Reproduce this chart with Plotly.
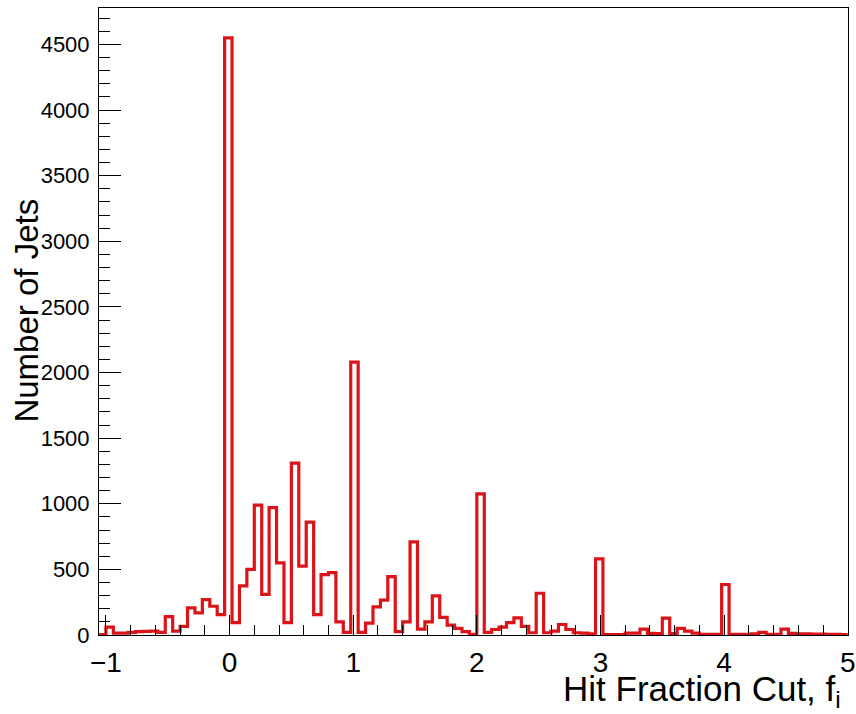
import plotly.graph_objects as go

# Histogram definition (101 bins of width 0.06 starting at -1.06)
x_low = -1.06
bin_width = 0.06
counts = [
    3, 60, 15, 15, 20, 25, 28, 30, 20, 140,        # bins 0-9
    30, 65, 207, 169, 270, 219, 156, 4550, 95, 375,  # 10-19
    500, 990, 310, 970, 550, 95, 1310, 525, 860, 155,  # 20-29
    460, 475, 100, 20, 2080, 20, 90, 215, 265, 445,  # 30-39
    25, 100, 710, 45, 100, 298, 135, 75, 50, 25,  # 40-49
    5, 1075, 20, 42, 60, 95, 130, 65, 17, 318,  # 50-59
    17, 30, 80, 42, 17, 15, 8, 580, 3, 3,  # 60-69
    3, 15, 15, 45, 12, 10, 128, 10, 50, 30,  # 70-79
    15, 5, 5, 5, 385, 5, 5, 5, 8, 20,  # 80-89
    5, 5, 45, 12, 8, 8, 6, 6, 5, 5,  # 90-99
    4,  # 100
]
x_range = [-1.056, 5.002]
y_range = [0, 4778]
y_tickvals = [0, 500, 1000, 1500, 2000, 2500, 3000, 3500, 4000, 4500]
x_tickvals = [-1, 0, 1, 2, 3, 4, 5]

edges = [x_low + bin_width * i for i in range(len(counts) + 1)]
xs = edges
ys = counts + [counts[-1]]

RED = "#da1418"
FONT = "Liberation Sans, Arial, Helvetica, sans-serif"

fig = go.Figure()
fig.add_trace(go.Scatter(
    x=xs, y=ys, mode="lines", line=dict(color=RED, width=3.2, shape="hv"),
    hoverinfo="skip", showlegend=False, cliponaxis=True,
))

fig.update_layout(
    width=856, height=714,
    margin=dict(l=98.5, r=8, t=7.5, b=78.5, autoexpand=False),
    paper_bgcolor="white", plot_bgcolor="white",
    font=dict(family=FONT, color="black"),
    xaxis=dict(
        range=x_range, showgrid=False, zeroline=False, automargin=False,
        showline=True, linecolor="black", linewidth=1, mirror=True,
        ticks="inside", ticklen=20, tickwidth=1, tickcolor="black",
        tickvals=x_tickvals, tickfont=dict(size=28, family=FONT),
        minor=dict(ticks="inside", ticklen=10, dtick=0.2, tick0=0, tickcolor="black", tickwidth=1, showgrid=False),
        ticklabelstandoff=2, ticklabeloverflow="allow",
    ),
    yaxis=dict(
        range=y_range, showgrid=False, zeroline=False, automargin=False,
        showline=True, linecolor="black", linewidth=1, mirror=True,
        ticks="inside", ticklen=22, tickwidth=1, tickcolor="black",
        tickvals=y_tickvals, tickfont=dict(size=22, family=FONT),
        minor=dict(ticks="inside", ticklen=11, dtick=100, tick0=0, tickcolor="black", tickwidth=1, showgrid=False),
        ticklabelstandoff=4,
    ),
    annotations=[
        dict(text="Hit Fraction Cut, f<sub>i</sub>", xref="paper", yref="paper",
             x=0.993, y=-0.089, xanchor="right", yanchor="middle", showarrow=False,
             font=dict(size=35, family=FONT, color="black")),
        dict(text="Number of Jets", xref="paper", yref="paper",
             x=-0.097, y=0.518, xanchor="center", yanchor="middle", textangle=-90,
             showarrow=False, font=dict(size=33, family=FONT, color="black")),
    ],
)

fig.write_html("out.html")
